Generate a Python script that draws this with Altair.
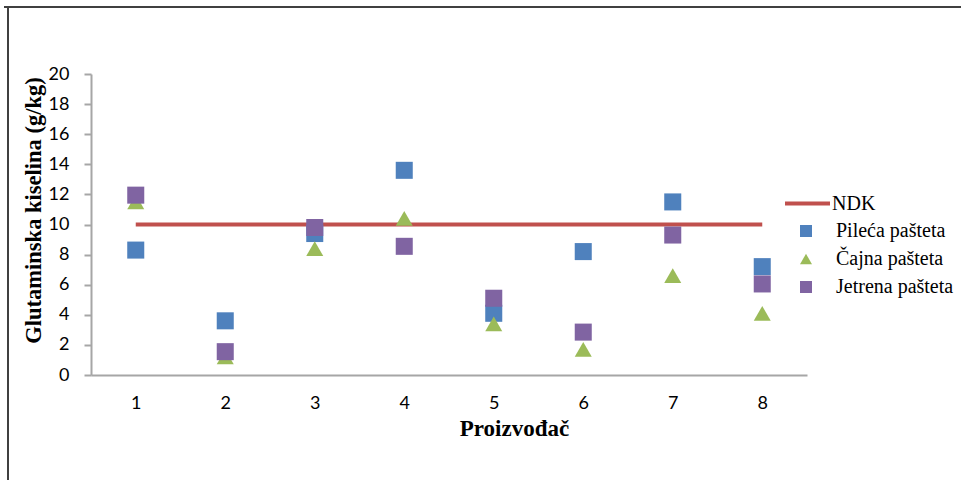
import altair as alt
import pandas as pd

producers = ["1", "2", "3", "4", "5", "6", "7", "8"]
series_names = ["Pileća pašteta", "Čajna pašteta", "Jetrena pašteta"]
pileca = [8.3, 3.6, 9.4, 13.6, 4.1, 8.2, 11.5, 7.2]
cajna = [11.5, 1.2, 8.4, 10.4, 3.4, 1.7, 6.6, 4.1]
jetrena = [11.95, 1.55, 9.8, 8.55, 5.1, 2.85, 9.3, 6.05]
ndk = [10, 10, 10, 10, 10, 10, 10, 10]

colors = ["#4F81BD", "#9BBB59", "#8064A2"]
shapes = ["square", "triangle-up", "square"]

rows = []
for name, vals in zip(series_names, [pileca, cajna, jetrena]):
    for p, v in zip(producers, vals):
        rows.append({"Proizvođač": p, "value": v, "series": name})
pts = pd.DataFrame(rows)
line_df = pd.DataFrame({"Proizvođač": producers, "value": ndk, "series": "NDK"})

x_enc = alt.X(
    "Proizvođač:O",
    sort=producers,
    scale=alt.Scale(padding=0.5),
    axis=alt.Axis(
        title="Proizvođač", labelAngle=0, ticks=False, labelPadding=19,
        grid=False,
        labelFont="Lato", labelFontSize=18, labelColor="#000000",
        titleFont="Liberation Serif", titleFontSize=23, titleFontWeight="bold",
        titleColor="#000000", titleX=423, titleY=53, titleAlign="center",
        titleBaseline="middle", domainColor="#A6A6A6", domainWidth=2,
    ),
)
y_scale = alt.Scale(domain=[0, 20], nice=False)
y_axis = alt.Axis(
    title="Glutaminska kiselina (g/kg)", values=list(range(0, 21, 2)),
    grid=False, tickSize=7, tickColor="#A6A6A6", tickWidth=2,
    domainColor="#A6A6A6", domainWidth=2, labelPadding=15,
    labelFont="Lato", labelFontSize=18, labelColor="#000000",
    titleFont="Liberation Serif", titleFontSize=22.5, titleFontWeight="bold",
    titleColor="#000000", titleX=-58, titleY=136, titleAlign="center",
    titleBaseline="middle",
)

line = alt.Chart(line_df).mark_line(strokeWidth=4).encode(
    x=x_enc,
    y=alt.Y("value:Q", scale=y_scale, axis=y_axis),
    color=alt.Color(
        "series:N",
        scale=alt.Scale(domain=["NDK"], range=["#C0504D"]),
        legend=alt.Legend(
            title=None, orient="none", legendX=692, legendY=105,
            symbolType="stroke", symbolSize=2025, symbolStrokeWidth=4,
            labelFont="Liberation Serif", labelFontSize=20, labelColor="#000000",
            labelOffset=0, padding=0,
        ),
    ),
)

legend_pts = alt.Legend(
    title=None, orient="none", legendX=705, legendY=147,
    symbolSize=144, rowPadding=8,
    labelFont="Liberation Serif", labelFontSize=20, labelColor="#000000",
    labelOffset=20, padding=0,
)

points = alt.Chart(pts).mark_point(filled=True, opacity=1, size=290).encode(
    x=x_enc,
    y=alt.Y("value:Q", scale=y_scale, axis=y_axis),
    fill=alt.Fill(
        "series:N",
        sort=series_names,
        scale=alt.Scale(domain=series_names, range=colors),
        legend=legend_pts,
    ),
    shape=alt.Shape(
        "series:N",
        sort=series_names,
        scale=alt.Scale(domain=series_names, range=shapes),
        legend=legend_pts,
    ),
)

deco = alt.Data(values=[{"a": 1}])
frame_top = alt.Chart(deco).mark_rule(color="#404040", strokeWidth=2).encode(
    x=alt.value(-87), x2=alt.value(870), y=alt.value(-67)
)
frame_left = alt.Chart(deco).mark_rule(color="#404040", strokeWidth=2).encode(
    x=alt.value(-83), y=alt.value(-68), y2=alt.value(406)
)

chart = alt.layer(frame_top, frame_left, line, points).resolve_scale(
    color="independent", fill="independent", shape="independent"
).properties(
    width=716, height=301,
    background="white",
    autosize=alt.AutoSizeParams(type="none"),
    padding={"left": 91, "top": 74, "right": 154, "bottom": 105},
).configure(
    view=alt.ViewConfig(stroke=None),
)

chart.save("out.html", embed_options={"renderer": "svg", "actions": False})
